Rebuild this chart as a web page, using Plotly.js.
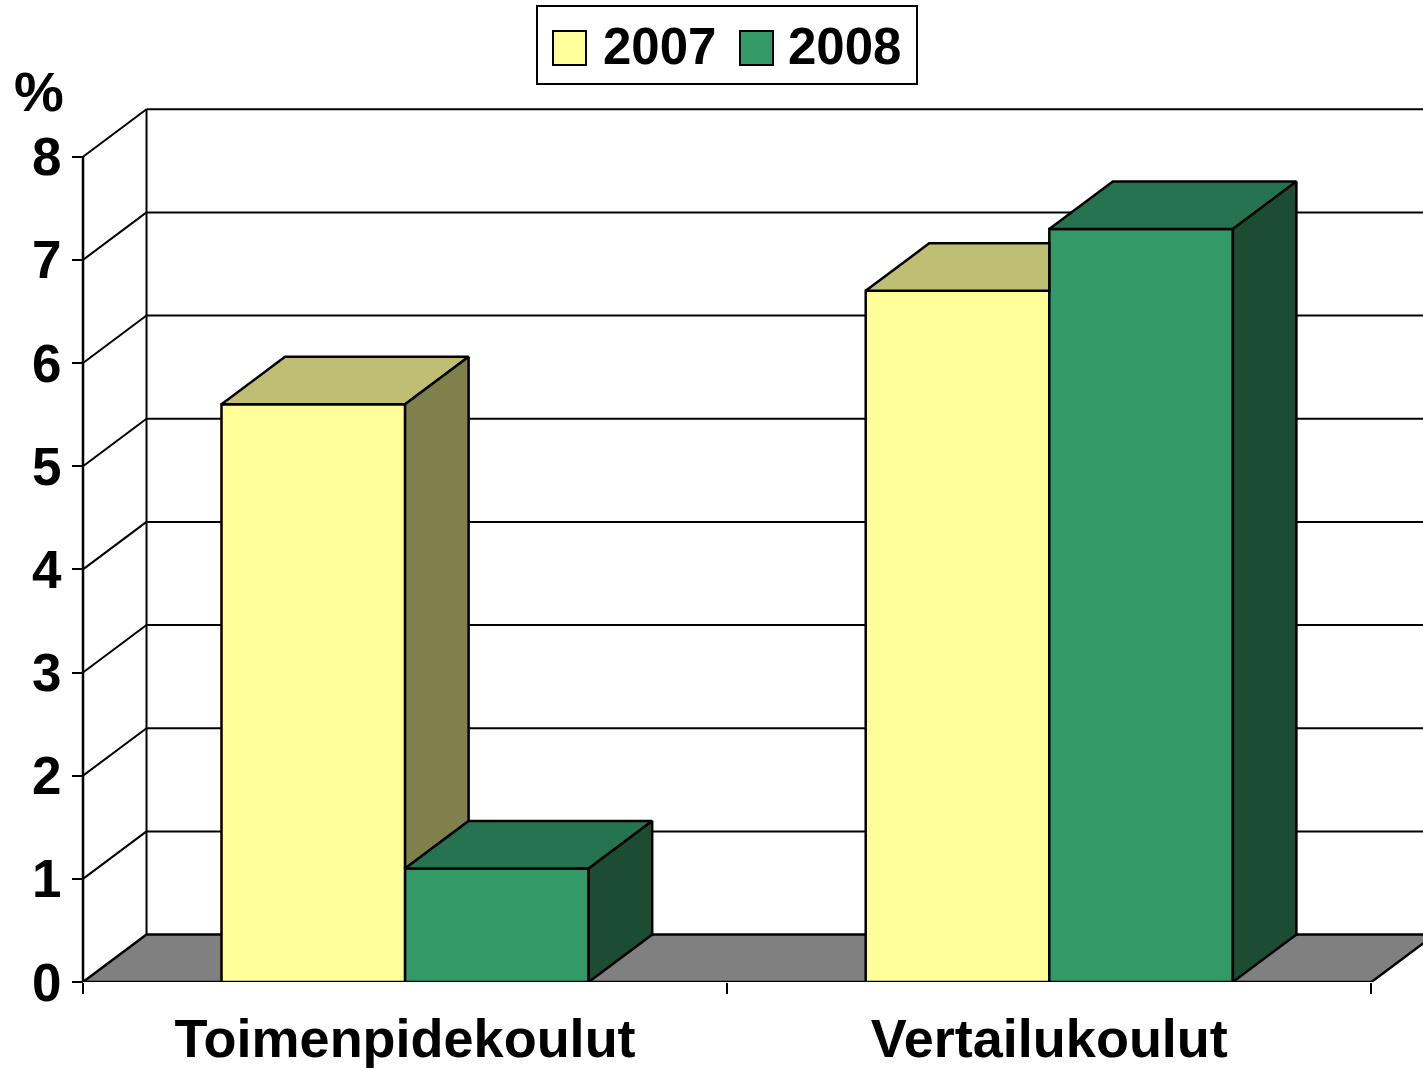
<!DOCTYPE html>
<html>
<head>
<meta charset="utf-8">
<script src="https://cdn.plot.ly/plotly-3.0.1.min.js"></script>
<style>html,body{margin:0;padding:0;background:#fff;}#chart{width:1423px;height:1071px;}</style>
</head>
<body>
<div id="chart"></div>
<script>
// ---- data ----
const categories = ['Toimenpidekoulut', 'Vertailukoulut'];
const seriesNames = ['2007', '2008'];
const values2007 = [5.6, 6.7];
const values2008 = [1.1, 7.3];
const yTickValues = [0, 1, 2, 3, 4, 5, 6, 7, 8];
const yUnitLabel = '%';

// ---- style ----
const W = 1423, H = 1071;
const M = {l: 60, r: 0, t: 108, b: 89};
const pw = W - M.l - M.r, ph = H - M.t - M.b;
const X_MIN = -0.0357, X_MAX = 2.0801;
const Y_MAX = 8.472;
const DX = 0.0986, DY = 0.46;      // 3D depth offset (axis units)
const BAR_W = 0.285;
const FONT = 'Liberation Sans, Arial, sans-serif';
const frontColors = ['#FFFF99', '#339966'];
const topColors = ['#BFBF74', '#267350'];
const sideColors = ['#80804C', '#1C4D33'];
const FLOOR = '#808080';
const EDGE_W = 2.5, GRID_W = 2;
const px = p => (p - M.l) / pw;
const py = p => (H - M.b - p) / ph;

const series = [values2007, values2008];
const centers = categories.map((_, i) => i + 0.5);
const nCat = categories.length;
const yTop = yTickValues[yTickValues.length - 1];

const traces = [];
// front faces as real bars
series.forEach((vals, j) => {
  traces.push({
    type: 'bar', name: seriesNames[j], x: centers, y: vals,
    width: BAR_W, offset: -BAR_W + j * BAR_W,
    marker: {color: frontColors[j], line: {color: '#000', width: EDGE_W}},
    showlegend: false, hoverinfo: 'x+y'
  });
});

// top and side faces, in painter's order
function poly(pts, color) {
  const xs = pts.map(p => p[0]).concat([pts[0][0]]);
  const ys = pts.map(p => p[1]).concat([pts[0][1]]);
  return {type: 'scatter', mode: 'lines', x: xs, y: ys, fill: 'toself', fillcolor: color,
          line: {color: '#000', width: EDGE_W}, showlegend: false, hoverinfo: 'skip'};
}
centers.forEach((c, i) => {
  series.forEach((vals, j) => {
    const v = vals[i];
    const x0 = c - BAR_W + j * BAR_W, x1 = x0 + BAR_W;
    const nv = (j + 1 < series.length) ? series[j + 1][i] : null;
    // top face
    let top;
    if (nv === null || nv <= v) {
      top = [[x0, v], [x1, v], [x1 + DX, v + DY], [x0 + DX, v + DY]];
    } else if (nv >= v + DY) {
      top = [[x0, v], [x1, v], [x1, v + DY], [x0 + DX, v + DY]];
    } else {
      const xa = x1 + DX * (nv - v) / DY;
      top = [[x0, v], [x1, v], [x1, nv], [xa, nv], [x1 + DX, v + DY], [x0 + DX, v + DY]];
    }
    traces.push(poly(top, topColors[j]));
    // side face
    if (nv === null) {
      traces.push(poly([[x1, v], [x1 + DX, v + DY], [x1 + DX, DY], [x1, 0]], sideColors[j]));
    } else if (nv < v) {
      traces.push(poly([[x1, v], [x1 + DX, v + DY], [x1 + DX, nv + DY], [x1, nv]], sideColors[j]));
    } else if (nv < v + DY) {
      const xa = x1 + DX * (nv - v) / DY;
      traces.push(poly([[xa, nv], [x1 + DX, v + DY], [x1 + DX, nv]], sideColors[j]));
    }
  });
});

// walls, floor, gridlines
const shapes = [];
shapes.push({type: 'path', xref: 'x', yref: 'y', layer: 'below',
  path: `M0,0 L${nCat},0 L${nCat + DX},${DY} L${DX},${DY} Z`,
  fillcolor: FLOOR, line: {color: '#000', width: EDGE_W}});
yTickValues.forEach(v => {
  if (v === 0) return;
  shapes.push({type: 'line', xref: 'x', yref: 'y', layer: 'below',
    x0: DX, x1: X_MAX + 1, y0: v + DY, y1: v + DY, line: {color: '#000', width: GRID_W}});
  shapes.push({type: 'line', xref: 'x', yref: 'y', layer: 'below',
    x0: 0, x1: DX, y0: v, y1: v + DY, line: {color: '#000', width: GRID_W}});
});
shapes.push({type: 'line', xref: 'x', yref: 'y', layer: 'below',
  x0: DX, x1: DX, y0: DY, y1: yTop + DY, line: {color: '#000', width: GRID_W}});
shapes.push({type: 'line', xref: 'x', yref: 'y', layer: 'above',
  x0: 0, x1: 0, y0: 0, y1: yTop, line: {color: '#000', width: 2.5}});

// custom legend (large swatches)
const legBox = {x0: 537, x1: 917, y0: 6, y1: 84};
shapes.push({type: 'rect', xref: 'paper', yref: 'paper', layer: 'above',
  x0: px(legBox.x0), x1: px(legBox.x1), y0: py(legBox.y1), y1: py(legBox.y0),
  fillcolor: '#fff', line: {color: '#000', width: 2}});
const legItems = [{sw: 553, tx: 601}, {sw: 740, tx: 786}];
const annotations = [];
seriesNames.forEach((nm, j) => {
  const it = legItems[j];
  shapes.push({type: 'rect', xref: 'paper', yref: 'paper', layer: 'above',
    x0: px(it.sw), x1: px(it.sw + 33), y0: py(65), y1: py(31),
    fillcolor: frontColors[j], line: {color: '#000', width: 2}});
  annotations.push({xref: 'paper', yref: 'paper', x: px(it.tx), y: py(47),
    xanchor: 'left', yanchor: 'middle', showarrow: false, text: nm,
    font: {family: FONT, size: 51, weight: 700, color: '#000'}});
});
annotations.push({xref: 'paper', yref: 'paper', x: px(39), y: py(91),
  xanchor: 'center', yanchor: 'middle', showarrow: false, text: yUnitLabel,
  font: {family: FONT, size: 56, weight: 700, color: '#000'}});

const layout = {
  width: W, height: H, margin: M,
  paper_bgcolor: '#fff', plot_bgcolor: '#fff',
  barmode: 'overlay', showlegend: false,
  font: {family: FONT, color: '#000'},
  xaxis: {range: [X_MIN, X_MAX], tickmode: 'array', tickvals: centers, ticktext: categories,
    ticks: '', showgrid: false, zeroline: false, showline: false, fixedrange: true,
    ticklabelstandoff: 20,
    tickfont: {family: FONT, size: 54, weight: 700, color: '#000'},
    minor: {tickmode: 'array', tickvals: categories.map((_, i) => i).concat([nCat]),
      ticks: 'outside', ticklen: 11, tickwidth: 2, tickcolor: '#000', showgrid: false}},
  yaxis: {range: [0, Y_MAX], tickmode: 'array', tickvals: yTickValues,
    anchor: 'free', position: (0 - X_MIN) / (X_MAX - X_MIN),
    ticks: 'outside', ticklen: 11, tickwidth: 2, tickcolor: '#000',
    showgrid: false, zeroline: false, showline: false, fixedrange: true,
    tickfont: {family: FONT, size: 53, weight: 700, color: '#000'}},
  shapes: shapes, annotations: annotations
};

Plotly.newPlot('chart', traces, layout, {staticPlot: true, displayModeBar: false});
</script>
</body>
</html>
